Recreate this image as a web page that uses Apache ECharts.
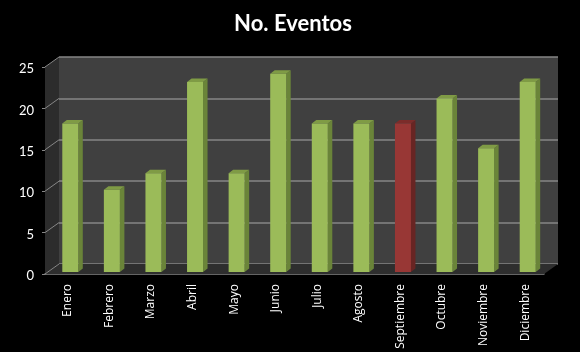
<!DOCTYPE html>
<html>
<head>
<meta charset="utf-8">
<style>
    html, body { margin: 0; padding: 0; background: #000; }
    #chart { width: 580px; height: 352px; }
</style>
<script src="https://cdn.jsdelivr.net/npm/echarts@6/dist/echarts.min.js"></script>
</head>
<body>
<div id="chart"></div>
<script>
    const months = ['Enero', 'Febrero', 'Marzo', 'Abril', 'Mayo', 'Junio', 'Julio', 'Agosto', 'Septiembre', 'Octubre', 'Noviembre', 'Diciembre'];
    const eventos = [18, 10, 12, 23, 12, 24, 18, 18, 18, 21, 15, 23];
    const yTicks = [0, 5, 10, 15, 20, 25];
    const highlighted = 'Septiembre';

    // fake 3D: how far the back wall sits from the front plane
    const wallDx = 14, wallDy = -10;
    const barDx = 4.5, barDy = -3.5, barW = 16;

    const green = {front: '#9bbb59', side: '#6a8439', top: '#7f9b45'};
    const red = {front: '#983735', side: '#682523', top: '#7c2c2a'};
    const lineColor = '#868686';

    function poly(points, fill, z2) {
        return {type: 'polygon', shape: {points}, style: {fill}, z2: z2 || 0};
    }

    function renderWalls(params, api) {
        const c = params.coordSys;
        const l = c.x, r = c.x + c.width, t = c.y, b = c.y + c.height;
        return {
            type: 'group',
            children: [
                poly([[l, t], [l + wallDx, t + wallDy], [l + wallDx, b + wallDy], [l, b]], '#2c2c2c'),
                poly([[l, b], [l + wallDx, b + wallDy], [r + wallDx, b + wallDy], [r, b]], '#2e2e2e')
            ]
        };
    }

    function renderDiagonal(params, api) {
        const p = api.coord([0, api.value(0)]);
        const x = params.coordSys.x;
        return {
            type: 'line',
            shape: {x1: x, y1: p[1], x2: x + wallDx, y2: p[1] + wallDy},
            style: {stroke: lineColor, lineWidth: 1}
        };
    }

    function renderBar(params, api) {
        const top = api.coord([api.value(0), api.value(1)]);
        const base = api.coord([api.value(0), 0]);
        const colors = months[params.dataIndex] === highlighted ? red : green;
        const x0 = top[0] + barDx - barW / 2, x1 = x0 + barW;
        const y0 = top[1] + barDy + 2, y1 = base[1] - 2;
        return {
            type: 'group',
            children: [
                poly([[x1, y0], [x1 + barDx, y0 + barDy], [x1 + barDx, y1 + barDy], [x1, y1]], colors.side),
                poly([[x0, y0], [x0 + barDx, y0 + barDy], [x1 + barDx, y0 + barDy], [x1, y0]], colors.top),
                poly([[x0, y0], [x1, y0], [x1, y1], [x0, y1]], colors.front)
            ]
        };
    }

    const chart = echarts.init(document.getElementById('chart'));
    chart.setOption({
        backgroundColor: '#000',
        animation: false,
        textStyle: {fontFamily: 'Lato'},
        title: {
            text: 'No. Eventos',
            left: 288,
            top: 8,
            textAlign: 'center',
            textStyle: {color: '#fff', fontSize: 22, fontWeight: 'bold', fontFamily: 'Lato'}
        },
        grid: [
            // front plane, carries the axis lines and the bars
            {left: 45, top: 67, width: 499, height: 207},
            // back wall
            {left: 59, top: 57, width: 499, height: 207, show: true, backgroundColor: '#404040', borderWidth: 0},
            // labels only, nudged 2px right and down off the ticks
            {left: 47, top: 69, width: 499, height: 207}
        ],
        xAxis: [
            {
                type: 'category',
                data: months,
                gridIndex: 0,
                axisLine: {lineStyle: {color: lineColor, width: 1.5}},
                axisTick: {length: 4, alignWithLabel: false, lineStyle: {color: lineColor}},
                axisLabel: {show: false}
            },
            {type: 'category', data: months, gridIndex: 1, show: false},
            {
                type: 'category',
                data: months,
                gridIndex: 2,
                axisLine: {show: false},
                axisTick: {show: false},
                axisLabel: {color: '#fff', fontSize: 12, fontFamily: 'Open Sans', rotate: 90, interval: 0, margin: 8}
            }
        ],
        yAxis: [
            {
                type: 'value',
                gridIndex: 0,
                min: 0,
                max: 25,
                interval: 5,
                axisLine: {show: true, lineStyle: {color: lineColor}},
                axisTick: {show: true, length: 3, lineStyle: {color: lineColor}},
                axisLabel: {show: false},
                splitLine: {show: false}
            },
            {
                type: 'value',
                gridIndex: 1,
                min: 0,
                max: 25,
                interval: 5,
                axisLine: {show: false},
                axisTick: {show: false},
                axisLabel: {show: false},
                splitLine: {show: true, lineStyle: {color: lineColor, width: 1.5}}
            },
            {
                type: 'value',
                gridIndex: 2,
                min: 0,
                max: 25,
                interval: 5,
                axisLine: {show: false},
                axisTick: {show: false},
                axisLabel: {color: '#fff', fontSize: 13, margin: 13},
                splitLine: {show: false}
            }
        ],
        series: [
            {
                type: 'custom',
                xAxisIndex: 0,
                yAxisIndex: 0,
                z: 1,
                silent: true,
                renderItem: renderWalls,
                data: [0]
            },
            {
                type: 'custom',
                xAxisIndex: 0,
                yAxisIndex: 0,
                z: 2,
                silent: true,
                renderItem: renderDiagonal,
                encode: {y: 0},
                data: yTicks.map(v => [v])
            },
            {
                type: 'custom',
                xAxisIndex: 0,
                yAxisIndex: 0,
                z: 3,
                renderItem: renderBar,
                encode: {x: 0, y: 1},
                data: eventos.map((v, i) => [i, v])
            }
        ]
    });
</script>
</body>
</html>
